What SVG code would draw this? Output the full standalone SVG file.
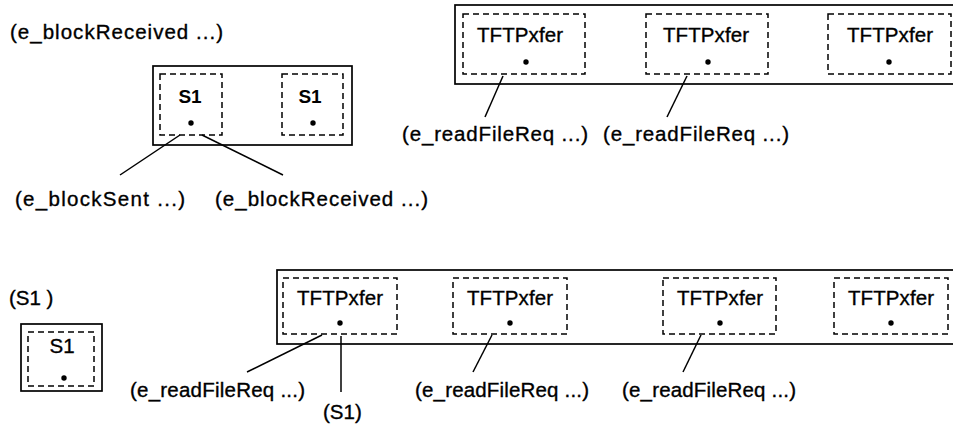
<svg xmlns="http://www.w3.org/2000/svg" width="953" height="424" viewBox="0 0 953 424">
<style>
text{font-family:"Liberation Sans",Arial,sans-serif;font-size:20.5px;fill:#000;stroke:#000;stroke-width:0.35}
.c{text-anchor:middle}
.b{font-weight:bold;stroke-width:0;font-size:19px}
.outer{fill:none;stroke:#000;stroke-width:1.7}
.dash{fill:none;stroke:#000;stroke-width:1.5;stroke-dasharray:6 4}
.ln{stroke:#000;stroke-width:1.5;fill:none}
</style>
<rect width="953" height="424" fill="#fff"/>

<text x="10" y="39" textLength="213" lengthAdjust="spacing">(e_blockReceived ...)</text>
<g id="blockBox">
<rect class="outer" x="153" y="66" width="199" height="79"/>
<g id="s1a">
<rect class="dash" x="160" y="74" width="62" height="61"/>
<text class="c b" x="190" y="103">S1</text>
<circle cx="191" cy="123" r="2.7"/>
</g>
<g id="s1b">
<rect class="dash" x="282" y="74" width="61" height="61"/>
<text class="c b" x="310" y="103">S1</text>
<circle cx="313" cy="123" r="2.7"/>
</g>
</g>
<text x="15" y="206" textLength="170" lengthAdjust="spacing">(e_blockSent ...)</text>
<text x="215" y="206" textLength="213" lengthAdjust="spacing">(e_blockReceived ...)</text>

<g id="topTFTP">
<rect class="outer" x="455" y="5" width="510" height="79"/>
<g id="t1"><rect class="dash" x="463" y="14" width="122" height="60"/><text class="c" x="520" y="42" textLength="86" lengthAdjust="spacing">TFTPxfer</text><circle cx="526" cy="62" r="2.7"/></g>
<g id="t2"><rect class="dash" x="646" y="14" width="122" height="60"/><text class="c" x="706" y="42" textLength="86" lengthAdjust="spacing">TFTPxfer</text><circle cx="708" cy="62" r="2.7"/></g>
<g id="t3"><rect class="dash" x="828" y="14" width="123" height="60"/><text class="c" x="890" y="42" textLength="86" lengthAdjust="spacing">TFTPxfer</text><circle cx="889" cy="62" r="2.7"/></g>
</g>
<text x="402" y="141" textLength="186" lengthAdjust="spacing">(e_readFileReq ...)</text>
<text x="603" y="141" textLength="186" lengthAdjust="spacing">(e_readFileReq ...)</text>

<text x="9" y="305">(S1 )</text>
<g id="s1solo">
<rect class="outer" x="21" y="324" width="81" height="67"/>
<rect class="dash" x="28" y="332" width="66" height="54"/>
<text class="c" x="62" y="353">S1</text>
<circle cx="64" cy="378" r="2.7"/>
</g>

<g id="botTFTP">
<rect class="outer" x="277" y="270" width="690" height="74"/>
<g id="b1"><rect class="dash" x="283" y="278" width="114" height="56"/><text class="c" x="340" y="305" textLength="86" lengthAdjust="spacing">TFTPxfer</text><circle cx="340" cy="323" r="2.7"/></g>
<g id="b2"><rect class="dash" x="453" y="278" width="114" height="56"/><text class="c" x="510" y="305" textLength="86" lengthAdjust="spacing">TFTPxfer</text><circle cx="510" cy="323" r="2.7"/></g>
<g id="b3"><rect class="dash" x="663" y="278" width="113" height="56"/><text class="c" x="720" y="305" textLength="86" lengthAdjust="spacing">TFTPxfer</text><circle cx="720" cy="323" r="2.7"/></g>
<g id="b4"><rect class="dash" x="834" y="278" width="114" height="56"/><text class="c" x="891" y="305" textLength="86" lengthAdjust="spacing">TFTPxfer</text><circle cx="891" cy="323" r="2.7"/></g>
</g>
<text x="130" y="397" textLength="175" lengthAdjust="spacing">(e_readFileReq ...)</text>
<text x="323" y="419">(S1)</text>
<text x="415" y="397" textLength="174" lengthAdjust="spacing">(e_readFileReq ...)</text>
<text x="622" y="397" textLength="174" lengthAdjust="spacing">(e_readFileReq ...)</text>

<g id="connectors">
<line class="ln" x1="180" y1="135" x2="120" y2="175"/>
<line class="ln" x1="202" y1="135" x2="283" y2="175"/>
<line class="ln" x1="503" y1="76" x2="485" y2="117"/>
<line class="ln" x1="687" y1="76" x2="667" y2="117"/>
<line class="ln" x1="322" y1="335" x2="247" y2="372"/>
<line class="ln" x1="341" y1="336" x2="341" y2="392"/>
<line class="ln" x1="492" y1="335" x2="473" y2="372"/>
<line class="ln" x1="701" y1="335" x2="683" y2="372"/>
</g>
</svg>
